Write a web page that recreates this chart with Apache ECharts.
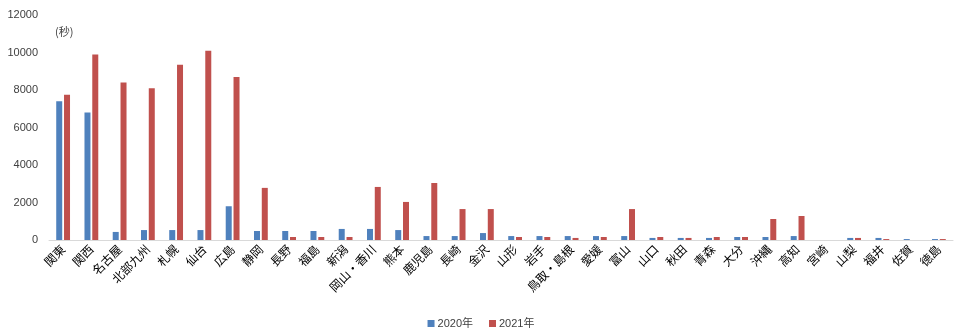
<!DOCTYPE html>
<html><head><meta charset="utf-8">
<script src="https://cdn.jsdelivr.net/npm/echarts@6/dist/echarts.min.js"></script>
<style>html,body{margin:0;padding:0;background:#fff}#c{width:962px;height:336px}</style>
</head><body><div id="c"></div>
<script>
const categories = ['関東','関西','名古屋','北部九州','札幌','仙台','広島','静岡','長野','福島','新潟','岡山・香川','熊本','鹿児島','長崎','金沢','山形','岩手','鳥取・島根','愛媛','富山','山口','秋田','青森','大分','沖縄','高知','宮崎','山梨','福井','佐賀','徳島'];
const values2020 = [7400,6800,430,530,530,530,1800,480,480,480,590,590,530,210,210,370,210,210,210,210,210,110,110,110,160,160,210,0,110,110,50,50];
const values2021 = [7750,9900,8400,8100,9350,10100,8700,2780,160,160,160,2830,2030,3040,1650,1650,160,160,110,160,1650,160,110,160,160,1120,1280,0,110,50,0,50];
const seriesNames = ['2020年','2021年'];
const yTicks = {min:0, max:12000, interval:2000};

const chart = echarts.init(document.getElementById('c'));
chart.setOption({
  animation:false,
  title:{text:'(秒)', left:50, top:21, textStyle:{fontSize:11, fontWeight:'normal', color:'#404040', fontFamily:'Noto Sans CJK JP'}},
  grid:{left:49, right:9, top:15, bottom:96},
  legend:{data:seriesNames, bottom:2, left:'center', itemWidth:7, itemHeight:7, itemGap:16, icon:'rect',
    textStyle:{fontSize:11, color:'#404040', padding:[0,0,0,-2], fontFamily:'Liberation Sans, Noto Sans CJK JP'}},
  xAxis:{type:'category', data:categories,
    axisLine:{lineStyle:{color:'#d9d9d9'}}, axisTick:{show:false},
    axisLabel:{interval:0, rotate:45, fontSize:12, color:'#000', margin:7, fontFamily:'Noto Sans CJK JP'}},
  yAxis:{type:'value', min:yTicks.min, max:yTicks.max, interval:yTicks.interval,
    splitLine:{show:false}, axisLine:{show:false}, axisTick:{show:false},
    axisLabel:{fontSize:11, color:'#404040', margin:11, fontFamily:'Liberation Sans', formatter:v=>String(v)}},
  series:[
    {name:seriesNames[0], type:'bar', data:values2020, barWidth:6, barGap:'30%', itemStyle:{color:'#4F81BD'}},
    {name:seriesNames[1], type:'bar', data:values2021, barWidth:6, barGap:'30%', itemStyle:{color:'#C0504D'}}
  ]
});
</script></body></html>
